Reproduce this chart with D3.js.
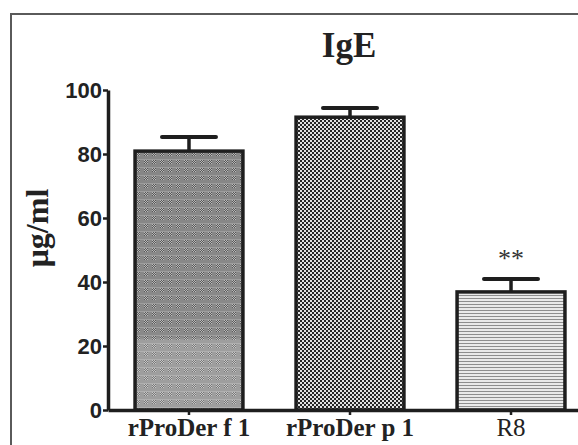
<!DOCTYPE html>
<html>
<head>
<meta charset="utf-8">
<script src="https://cdn.jsdelivr.net/npm/d3@7"></script>
<style>
  body { margin: 0; background: #fff; }
  svg { display: block; }
</style>
</head>
<body>
<script>
// values
var groups = ["rProDer f 1", "rProDer p 1", "R8"];
var means = [80.9, 91.5, 36.9];
var errs = [4.4, 2.9, 4.0];
var stars = ["", "", "**"];
var yTicks = [0, 20, 40, 60, 80, 100];

var W = 578, H = 445;
var svg = d3.select("body").append("svg")
  .attr("width", W)
  .attr("height", H);

var defs = svg.append("defs");

// bar 1: grey checker blocks
var p1 = defs.append("pattern").attr("id", "pat1")
  .attr("patternUnits", "userSpaceOnUse").attr("width", 8).attr("height", 8);
p1.append("rect").attr("width", 8).attr("height", 8).attr("fill", "#868686");
for (var i = 0; i < 4; i++) {
  for (var j = 0; j < 4; j++) {
    p1.append("rect").attr("x", i).attr("y", j).attr("width", 1).attr("height", 1)
      .attr("fill", (i + j) % 2 == 0 ? "#b8b8b8" : "#555");
  }
}
p1.append("rect").attr("x", 0).attr("y", 7).attr("width", 8).attr("height", 1).attr("fill", "#9c9c9c");

// lighter band toward the bottom of bar 1
var g1 = defs.append("linearGradient").attr("id", "fade1")
  .attr("x1", 0).attr("y1", 0).attr("x2", 0).attr("y2", 1);
g1.append("stop").attr("offset", "0").attr("stop-color", "#fff").attr("stop-opacity", 0);
g1.append("stop").attr("offset", "0.72").attr("stop-color", "#fff").attr("stop-opacity", 0.03);
g1.append("stop").attr("offset", "0.73").attr("stop-color", "#fff").attr("stop-opacity", 0.2);
g1.append("stop").attr("offset", "1").attr("stop-color", "#fff").attr("stop-opacity", 0.2);

// bar 2: fine black/white checker
var p2 = defs.append("pattern").attr("id", "pat2")
  .attr("patternUnits", "userSpaceOnUse").attr("width", 4).attr("height", 4);
p2.append("rect").attr("width", 4).attr("height", 4).attr("fill", "#e2e2e2");
p2.append("rect").attr("x", 0).attr("y", 0).attr("width", 2).attr("height", 2).attr("fill", "#262626");
p2.append("rect").attr("x", 2).attr("y", 2).attr("width", 2).attr("height", 2).attr("fill", "#262626");

// bar 3: horizontal lines
var p3 = defs.append("pattern").attr("id", "pat3")
  .attr("patternUnits", "userSpaceOnUse").attr("width", 6).attr("height", 3);
p3.append("rect").attr("width", 6).attr("height", 3).attr("fill", "#eaeaea");
p3.append("rect").attr("y", 1).attr("width", 6).attr("height", 1).attr("fill", "#8e8e8e");

var fills = ["url(#pat1)", "url(#pat2)", "url(#pat3)"];

// outer frame (only left and top visible)
svg.append("path")
  .attr("d", "M11,445 V14 H578")
  .attr("fill", "none")
  .attr("stroke", "#5a5a5a")
  .attr("stroke-width", 2);

var x = d3.scaleBand()
  .domain(groups)
  .range([108, 592])
  .paddingInner(0.33)
  .paddingOuter(0.168);

var y = d3.scaleLinear()
  .domain([0, 100])
  .range([410, 90]);

// bars
var bars = svg.selectAll(".bar")
  .data(groups)
  .enter().append("g")
  .attr("class", "bar");

bars.append("rect")
  .attr("x", function(d) { return x(d); })
  .attr("y", function(d, i) { return y(means[i]); })
  .attr("width", x.bandwidth())
  .attr("height", function(d, i) { return y(0) - y(means[i]); })
  .attr("fill", function(d, i) { return fills[i]; });

bars.filter(function(d, i) { return i == 0; }).append("rect")
  .attr("x", function(d) { return x(d); })
  .attr("y", y(means[0]))
  .attr("width", x.bandwidth())
  .attr("height", y(0) - y(means[0]))
  .attr("fill", "url(#fade1)");

bars.append("rect")
  .attr("x", function(d) { return x(d); })
  .attr("y", function(d, i) { return y(means[i]); })
  .attr("width", x.bandwidth())
  .attr("height", function(d, i) { return y(0) - y(means[i]); })
  .attr("fill", "none")
  .attr("stroke", "#1e1e1e")
  .attr("stroke-width", 3.5);

// error bars (upper only)
bars.append("line")
  .attr("x1", function(d) { return x(d) + x.bandwidth() / 2; })
  .attr("x2", function(d) { return x(d) + x.bandwidth() / 2; })
  .attr("y1", function(d, i) { return y(means[i]); })
  .attr("y2", function(d, i) { return y(means[i] + errs[i]); })
  .attr("stroke", "#1e1e1e")
  .attr("stroke-width", 3.5);

bars.append("line")
  .attr("x1", function(d) { return x(d) + x.bandwidth() / 2 - 27; })
  .attr("x2", function(d) { return x(d) + x.bandwidth() / 2 + 27; })
  .attr("y1", function(d, i) { return y(means[i] + errs[i]); })
  .attr("y2", function(d, i) { return y(means[i] + errs[i]); })
  .attr("stroke", "#1e1e1e")
  .attr("stroke-width", 4)
  .attr("stroke-linecap", "round");

bars.append("text")
  .attr("x", function(d) { return x(d) + x.bandwidth() / 2; })
  .attr("y", function(d, i) { return y(means[i] + errs[i]) - 12; })
  .attr("text-anchor", "middle")
  .style("font-family", "'Liberation Serif', 'Times New Roman', serif")
  .style("font-size", "26px")
  .attr("fill", "#333")
  .text(function(d, i) { return stars[i]; });

// axes
var xAxis = svg.append("g")
  .attr("transform", "translate(0," + y(0) + ")")
  .call(d3.axisBottom(x).tickSizeOuter(0).tickSizeInner(5).tickPadding(3));
xAxis.select(".domain").attr("stroke", "#1e1e1e").attr("stroke-width", 3.5);
xAxis.selectAll(".tick line").attr("stroke", "#1e1e1e").attr("stroke-width", 2.5);
xAxis.selectAll(".tick text")
  .attr("fill", "#222")
  .style("font-family", "'Liberation Serif', 'Times New Roman', serif")
  .style("font-size", "25px")
  .style("font-weight", function(d) { return d == "R8" ? "normal" : "bold"; });

var yAxis = svg.append("g")
  .attr("transform", "translate(108,0)")
  .call(d3.axisLeft(y).tickValues(yTicks).tickSizeOuter(0).tickSizeInner(5).tickPadding(1));
yAxis.select(".domain").attr("stroke", "#1e1e1e").attr("stroke-width", 3.5);
yAxis.selectAll(".tick line").attr("stroke", "#1e1e1e").attr("stroke-width", 2.5);
yAxis.selectAll(".tick text")
  .attr("fill", "#222")
  .style("font-family", "'Liberation Sans', Arial, sans-serif")
  .style("font-size", "22px")
  .style("font-weight", "bold");

// titles
svg.append("text")
  .attr("x", 349)
  .attr("y", 57)
  .attr("text-anchor", "middle")
  .style("font-family", "'Liberation Serif', 'Times New Roman', serif")
  .style("font-size", "35px")
  .style("font-weight", "bold")
  .attr("fill", "#222")
  .text("IgE");

svg.append("text")
  .attr("transform", "translate(48,228) rotate(-90)")
  .attr("text-anchor", "middle")
  .style("font-family", "'Liberation Serif', 'Times New Roman', serif")
  .style("font-size", "32px")
  .style("font-weight", "bold")
  .attr("fill", "#222")
  .text("μg/ml");
</script>
</body>
</html>
